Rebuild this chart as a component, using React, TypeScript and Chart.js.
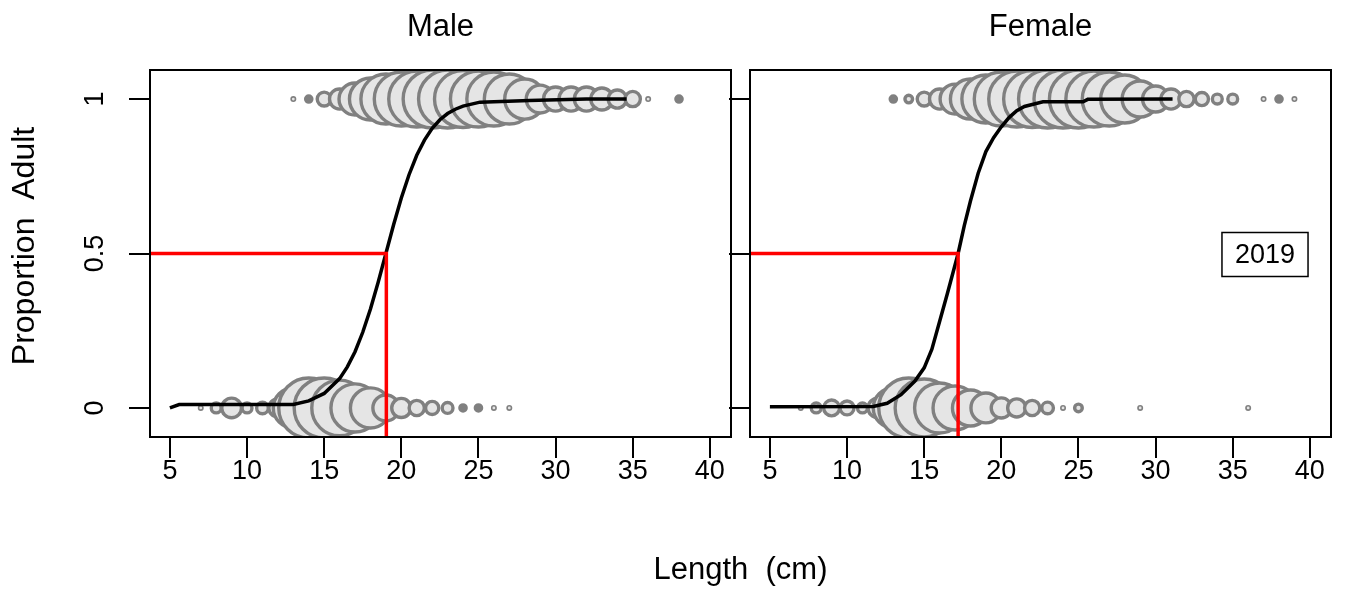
import React, { useEffect, useRef } from 'react';
import { Chart, registerables } from 'chart.js';

Chart.register(...registerables);

// ---------- data ----------
const xTicks = [5, 10, 15, 20, 25, 30, 35, 40];
const yTicks = [0, 0.5, 1];
const yTickLabels = ['0', '0.5', '1'];
const panelTitles = ['Male', 'Female'];
const xAxisTitle = 'Length  (cm)';
const yAxisTitle = 'Proportion  Adult';
const yearLabel = '2019';

// Male: counts of immature (y = 0) and mature (y = 1) fish by length bin
const maleImmLengths = [7, 8, 9, 10, 11, 12, 13, 14, 15, 16, 17, 18, 19, 20, 21, 22, 23, 24, 25, 26, 27];
const maleImmCounts = [1, 5, 20, 5, 7, 17, 83, 186, 186, 160, 120, 83, 35, 19, 12, 9, 6, 2, 2, 1, 1];
const maleMatLengths = [13, 14, 15, 16, 17, 18, 19, 20, 21, 22, 23, 24, 25, 26, 27, 28, 29, 30, 31, 32, 33, 34, 35, 36, 38];
const maleMatCounts = [1, 2, 10, 21, 53, 91, 129, 151, 162, 174, 174, 168, 162, 151, 129, 83, 40, 30, 30, 30, 25, 17, 12, 1, 2];

// Female
const femImmLengths = [7, 8, 9, 10, 11, 12, 13, 14, 15, 16, 17, 18, 19, 20, 21, 22, 23, 24, 25, 29, 36];
const femImmCounts = [1, 5, 13, 10, 5, 20, 83, 186, 174, 129, 100, 67, 46, 21, 17, 12, 7, 1, 3, 1, 1];
const femMatLengths = [13, 14, 15, 16, 17, 18, 19, 20, 21, 22, 23, 24, 25, 26, 27, 28, 29, 30, 31, 32, 33, 34, 35, 37, 38, 39];
const femMatCounts = [2, 3, 10, 21, 46, 83, 119, 151, 162, 168, 174, 174, 174, 162, 151, 119, 67, 35, 21, 12, 9, 5, 5, 1, 2, 1];

// Fitted maturity curves
const maleCurveL = [5, 5.6, 13, 14, 15, 16, 16.5, 17, 17.5, 18, 18.5, 19, 19.5, 20, 20.5, 21, 21.5, 22, 22.5, 23, 23.5, 24, 25.1, 28.3, 32, 34.6];
const maleCurveP = [0, 0.011, 0.011, 0.023, 0.047, 0.095, 0.133, 0.182, 0.245, 0.32, 0.407, 0.5, 0.593, 0.68, 0.755, 0.818, 0.867, 0.905, 0.933, 0.953, 0.967, 0.977, 0.99, 0.995, 1.0, 1.0];
const femCurveL = [5, 11.7, 12.6, 13.5, 14.4, 15, 15.5, 16, 16.5, 17.2, 17.6, 18, 18.5, 19, 19.5, 20, 20.5, 21, 21.5, 22.7, 25.3, 25.6, 31.1];
const femCurveP = [0.004, 0.005, 0.015, 0.043, 0.087, 0.13, 0.19, 0.28, 0.37, 0.5, 0.59, 0.67, 0.76, 0.83, 0.875, 0.91, 0.94, 0.962, 0.976, 0.991, 0.991, 0.999, 1.0];

// Length at 50% maturity
const maleL50 = 19.03;
const femL50 = 17.2;

// ---------- layout / style ----------
const W = 1348;
const H = 592;
const X_MIN = 3.71;
const X_MAX = 41.37;
const Y_MIN = -0.094;
const Y_MAX = 1.094;
const FONT = '"Liberation Sans", Arial, Helvetica, sans-serif';
const TICK_FONT = 27;
const TITLE_FONT = 31;
const LAB_FONT = 31;
const FILL = '#e5e5e5';
const EDGE = '#808080';

const radiusOf = (n: number) => 2.2 * Math.sqrt(n);

function bubbleDataset(lengths: number[], counts: number[], yVal: number, order: number) {
  return {
    type: 'scatter' as const,
    data: lengths.map((x) => ({ x, y: yVal })),
    pointRadius: counts.map(radiusOf),
    pointHoverRadius: counts.map(radiusOf),
    pointBorderWidth: counts.map((n) => (n <= 1 ? 1.6 : 3.4)),
    pointBackgroundColor: counts.map((n) => (n === 2 ? EDGE : FILL)),
    pointBorderColor: EDGE,
    showLine: false,
    order,
  };
}

function curveDataset(ls: number[], ps: number[]) {
  return {
    type: 'line' as const,
    data: ls.map((x, i) => ({ x, y: ps[i] })),
    borderColor: '#000000',
    borderWidth: 3.5,
    pointRadius: 0,
    tension: 0,
    fill: false,
    order: 1,
  };
}

function l50Dataset(l50: number) {
  return {
    type: 'line' as const,
    data: [
      { x: X_MIN, y: 0.5 },
      { x: l50, y: 0.5 },
      { x: l50, y: Y_MIN },
    ],
    borderColor: '#ff0000',
    borderWidth: 3.5,
    pointRadius: 0,
    tension: 0,
    fill: false,
    order: 0,
  };
}

function framePlugin(panel: number) {
  return {
    id: 'frame' + panel,
    afterDraw(chart: any) {
      const { ctx, chartArea: a, scales } = chart;
      const xs = scales.x;
      const ys = scales.y;
      ctx.save();
      ctx.strokeStyle = '#000000';
      ctx.lineWidth = 2;
      ctx.strokeRect(a.left, a.top, a.right - a.left, a.bottom - a.top);
      ctx.beginPath();
      xTicks.forEach((v) => {
        const px = Math.round(xs.getPixelForValue(v));
        ctx.moveTo(px, a.bottom);
        ctx.lineTo(px, a.bottom + 21);
      });
      yTicks.forEach((v) => {
        const py = Math.round(ys.getPixelForValue(v));
        ctx.moveTo(a.left, py);
        ctx.lineTo(a.left - 21, py);
      });
      ctx.stroke();

      ctx.fillStyle = '#000000';
      ctx.textAlign = 'center';
      ctx.textBaseline = 'middle';
      ctx.font = `${TICK_FONT}px ${FONT}`;
      xTicks.forEach((v) => {
        ctx.fillText(String(v), xs.getPixelForValue(v), a.bottom + 35);
      });

      ctx.font = `${TITLE_FONT}px ${FONT}`;
      ctx.fillText(panelTitles[panel], (a.left + a.right) / 2, 27);

      if (panel === 0) {
        ctx.font = `${TICK_FONT}px ${FONT}`;
        yTicks.forEach((v, i) => {
          ctx.save();
          ctx.translate(a.left - 54, ys.getPixelForValue(v));
          ctx.rotate(-Math.PI / 2);
          ctx.fillText(yTickLabels[i], 0, 0);
          ctx.restore();
        });
        ctx.font = `${LAB_FONT + 1}px ${FONT}`;
        ctx.save();
        ctx.translate(25, 246);
        ctx.rotate(-Math.PI / 2);
        ctx.fillText(yAxisTitle, 0, 0);
        ctx.restore();
      } else {
        // shared x axis title, centred between both panels
        ctx.font = `${LAB_FONT}px ${FONT}`;
        ctx.fillText(xAxisTitle, (150 + a.right) / 2, 570);
        // year legend box
        ctx.font = `${TICK_FONT}px ${FONT}`;
        const tw = ctx.measureText(yearLabel).width;
        const cx = a.right - 66;
        const cy = ys.getPixelForValue(0.5) + 1;
        const bw = tw + 26;
        const bh = 44;
        ctx.lineWidth = 1.5;
        ctx.strokeRect(cx - bw / 2, cy - bh / 2, bw, bh);
        ctx.fillText(yearLabel, cx, cy + 1);
      }
      ctx.restore();
    },
  };
}

function makeChart(canvas: HTMLCanvasElement, panel: number) {
  const isMale = panel === 0;
  const padding = isMale
    ? { left: 150, right: W - 731, top: 70, bottom: H - 437 }
    : { left: 750, right: W - 1331, top: 70, bottom: H - 437 };
  const datasets: any[] = isMale
    ? [
        l50Dataset(maleL50),
        curveDataset(maleCurveL, maleCurveP),
        bubbleDataset(maleMatLengths, maleMatCounts, 1, 2),
        bubbleDataset(maleImmLengths, maleImmCounts, 0, 3),
      ]
    : [
        l50Dataset(femL50),
        curveDataset(femCurveL, femCurveP),
        bubbleDataset(femMatLengths, femMatCounts, 1, 2),
        bubbleDataset(femImmLengths, femImmCounts, 0, 3),
      ];
  return new Chart(canvas, {
    type: 'scatter',
    data: { datasets },
    options: {
      responsive: false,
      animation: false,
      devicePixelRatio: 1,
      events: [],
      layout: { padding, autoPadding: false },
      plugins: { legend: { display: false }, tooltip: { enabled: false } },
      scales: {
        x: { type: 'linear', min: X_MIN, max: X_MAX, display: false },
        y: { type: 'linear', min: Y_MIN, max: Y_MAX, display: false },
      },
    },
    plugins: [framePlugin(panel)],
  } as any);
}

export default function App() {
  const maleRef = useRef<HTMLCanvasElement>(null);
  const femRef = useRef<HTMLCanvasElement>(null);

  useEffect(() => {
    const c1 = makeChart(maleRef.current!, 0);
    const c2 = makeChart(femRef.current!, 1);
    return () => {
      c1.destroy();
      c2.destroy();
    };
  }, []);

  const canvasStyle: React.CSSProperties = {
    position: 'absolute',
    left: 0,
    top: 0,
    width: W,
    height: H,
    display: 'block',
  };

  return (
    <div style={{ position: 'absolute', left: 0, top: 0, width: W, height: H, background: '#ffffff', overflow: 'hidden' }}>
      <canvas ref={maleRef} width={W} height={H} style={canvasStyle} />
      <canvas ref={femRef} width={W} height={H} style={canvasStyle} />
    </div>
  );
}
